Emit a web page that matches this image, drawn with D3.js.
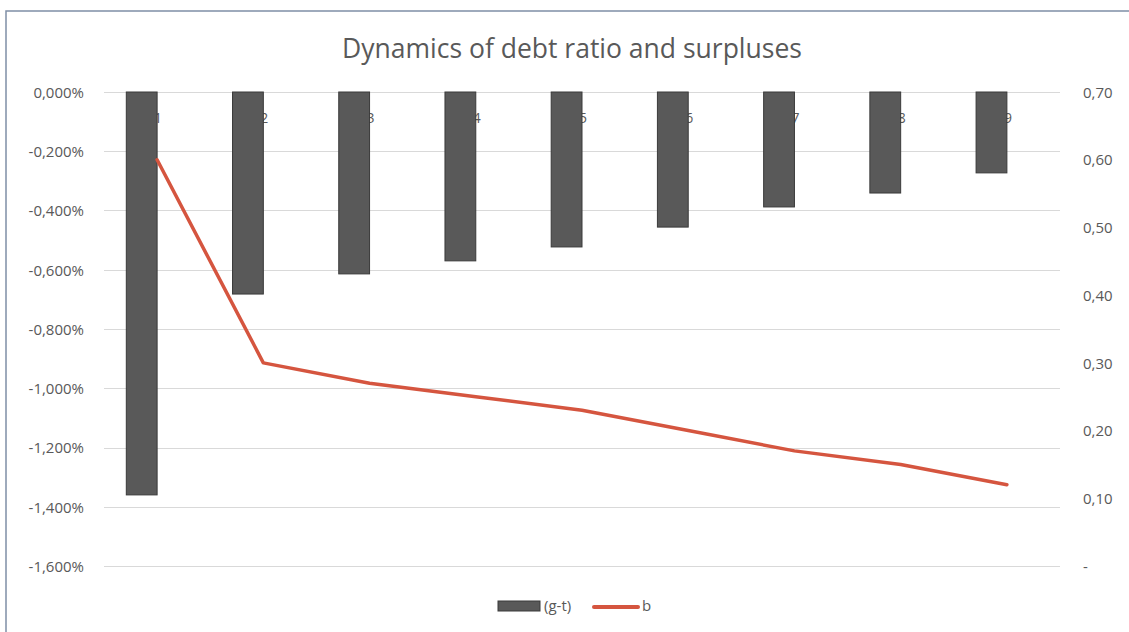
<!DOCTYPE html>
<html>
<head>
<meta charset="utf-8">
<script src="https://cdn.jsdelivr.net/npm/d3@7"></script>
<style>
body { margin: 0; background: #fff; }
text { font-family: "Open Sans", "Noto Sans", sans-serif; fill: #595959; }
</style>
</head>
<body>
<div id="chart"></div>
<script>
// data
var categories = ["1", "2", "3", "4", "5", "6", "7", "8", "9"];
var gt = [-1.360, -0.682, -0.614, -0.570, -0.523, -0.456, -0.388, -0.341, -0.273]; // percent
var b = [0.60, 0.30, 0.27, 0.25, 0.23, 0.20, 0.17, 0.15, 0.12];
var leftTicks = [0, -0.2, -0.4, -0.6, -0.8, -1.0, -1.2, -1.4, -1.6];
var rightTicks = [0, 0.1, 0.2, 0.3, 0.4, 0.5, 0.6, 0.7];

var W = 1129, H = 632;
var svg = d3.select("#chart").append("svg").attr("width", W).attr("height", H);

// chart frame
svg.append("rect").attr("x", 6).attr("y", 11).attr("width", W).attr("height", H)
    .attr("fill", "none").attr("stroke", "#7f8fa6").attr("stroke-width", 1.5);

svg.append("text").attr("x", 572).attr("y", 58).attr("text-anchor", "middle")
    .style("font-size", "26.5px").text("Dynamics of debt ratio and surpluses");

var pLeft = 104, pRight = 1060, pTop = 92, pBottom = 566;

// category slots; bars sit just left of each slot centre (Excel's offset)
var x = d3.scaleBand().domain(categories).range([pLeft, pRight]);
var cx = d => x(d) + x.bandwidth() / 2;
var barW = x.bandwidth() * 0.29;
var yL = d3.scaleLinear().domain([-1.6, 0]).range([pBottom, pTop]);
var yR = d3.scaleLinear().domain([0, 0.7]).range([pBottom, pTop]);

var fmtL = function(v){ return (v === 0 ? "0,000" : d3.format(".3f")(v).replace(".", ",").replace("−", "-")) + "%"; };
var fmtR = function(v){ return v === 0 ? "-" : d3.format(".2f")(v).replace(".", ","); };

// gridlines
svg.append("g").selectAll("line").data(leftTicks).join("line")
    .attr("x1", pLeft).attr("x2", pRight)
    .attr("y1", d => Math.round(yL(d)) + 0.5).attr("y2", d => Math.round(yL(d)) + 0.5)
    .attr("stroke", "#d9d9d9").attr("stroke-width", 1.2);

// left axis labels
var axL = svg.append("g").attr("transform", "translate(" + (pLeft - 20) + ",0)")
    .call(d3.axisLeft(yL).tickValues(leftTicks).tickFormat(fmtL).tickSize(0).tickPadding(0));
axL.select(".domain").remove();
axL.selectAll("text").style("font-size", "15px").attr("fill", "#595959").attr("dy", "0.35em");

// right axis labels
var axR = svg.append("g").attr("transform", "translate(" + (pRight + 23) + ",0)")
    .call(d3.axisRight(yR).tickValues(rightTicks).tickFormat(fmtR).tickSize(0).tickPadding(0));
axR.select(".domain").remove();
axR.selectAll("text").style("font-size", "15px").attr("fill", "#595959").attr("dy", "0.35em");

// category labels (at slot centre, partly under the bars)
svg.append("g").selectAll("text").data(categories).join("text")
    .attr("x", d => cx(d) + 1).attr("y", 123)
    .attr("text-anchor", "middle").style("font-size", "14px").attr("fill", "#595959").text(d => d);

// bars
svg.append("g").selectAll("rect").data(gt).join("rect")
    .attr("x", (d, i) => cx(categories[i]) - barW)
    .attr("y", yL(0))
    .attr("width", barW)
    .attr("height", d => yL(d) - yL(0))
    .attr("fill", "#595959").attr("stroke", "#3a3a3a").attr("stroke-width", 1);

// line b
var line = d3.line()
    .x((d, i) => cx(categories[i]))
    .y(d => yR(d));
svg.append("path").datum(b).attr("d", line)
    .attr("fill", "none").attr("stroke", "#d5553f").attr("stroke-width", 3.5)
    .attr("stroke-linejoin", "round").attr("stroke-linecap", "round");

// legend
var lg = svg.append("g");
lg.append("rect").attr("x", 498).attr("y", 601).attr("width", 42).attr("height", 10)
    .attr("fill", "#595959").attr("stroke", "#3a3a3a");
lg.append("text").attr("x", 544).attr("y", 611).style("font-size", "15px").text("(g-t)");
lg.append("line").attr("x1", 594).attr("x2", 638).attr("y1", 607).attr("y2", 607)
    .attr("stroke", "#d5553f").attr("stroke-width", 4).attr("stroke-linecap", "round");
lg.append("text").attr("x", 642).attr("y", 611).style("font-size", "15px").text("b");
</script>
</body>
</html>
